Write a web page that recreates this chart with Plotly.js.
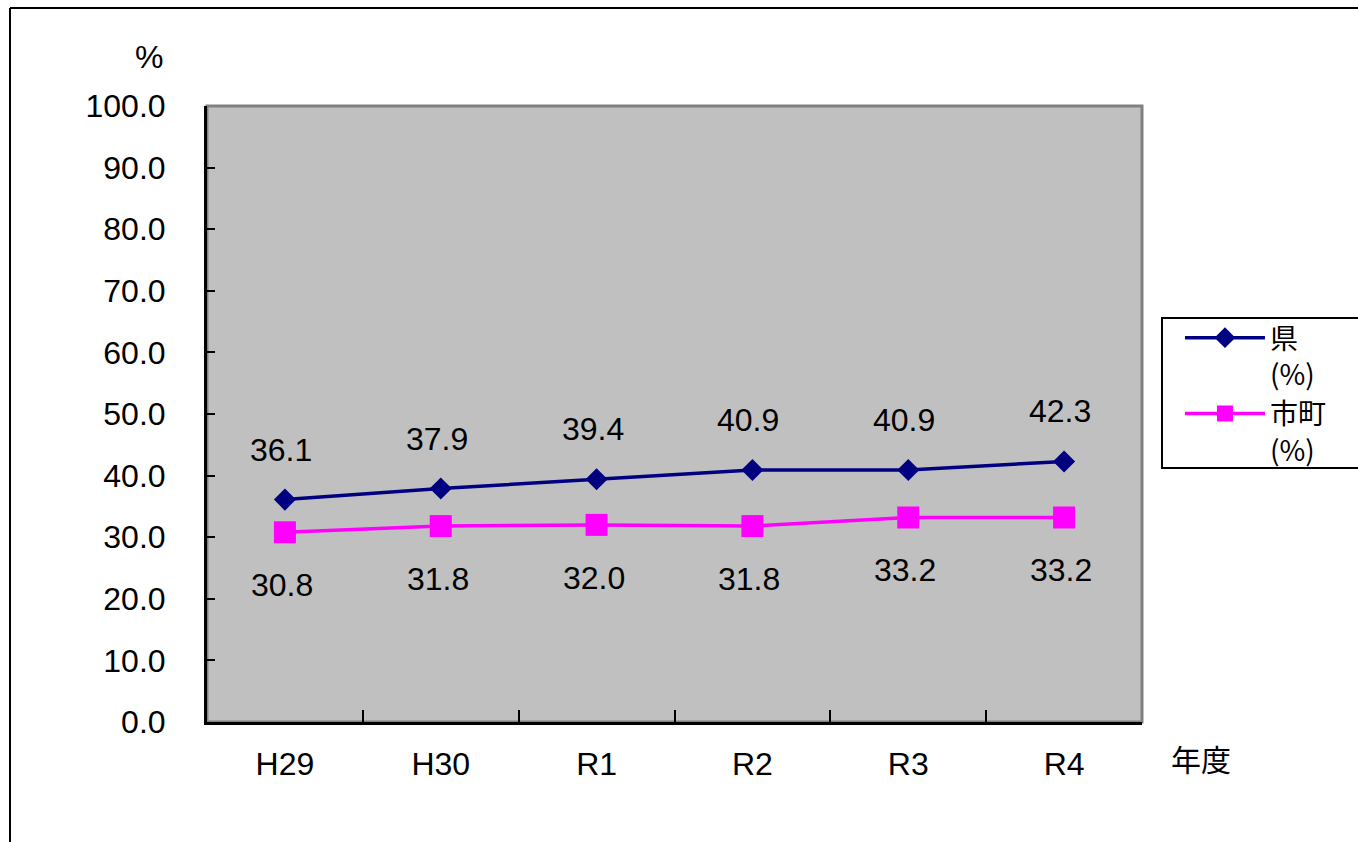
<!DOCTYPE html>
<html>
<head>
<meta charset="utf-8">
<script src="https://cdn.plot.ly/plotly-3.0.1.min.js"></script>
<style>
  html, body { margin: 0; padding: 0; background: #ffffff; }
  #chart { width: 1358px; height: 842px; }
</style>
</head>
<body>
<div id="chart"></div>
<script>
const categories = ["H29", "H30", "R1", "R2", "R3", "R4"];
const prefValues = [36.1, 37.9, 39.4, 40.9, 40.9, 42.3];
const cityValues = [30.8, 31.8, 32.0, 31.8, 33.2, 33.2];
const seriesNames = ["県<br>(%)", "市町<br>(%)"];
const yTicks = [0, 10, 20, 30, 40, 50, 60, 70, 80, 90, 100];

const FONT = "Liberation Sans, Arial, sans-serif";
const CJK = "Noto Sans CJK JP, sans-serif";

const traces = [
  {
    x: categories, y: prefValues, name: seriesNames[0],
    type: "scatter", mode: "lines+markers",
    line: { color: "#000080", width: 3.5 },
    marker: { symbol: "diamond", size: 17, color: "#000080" }
  },
  {
    x: categories, y: cityValues, name: seriesNames[1],
    type: "scatter", mode: "lines+markers",
    line: { color: "#FF00FF", width: 3.5 },
    marker: { symbol: "square", size: 22, color: "#FF00FF" }
  }
];

const annotations = [];
categories.forEach((c, i) => {
  annotations.push({ x: c, y: prefValues[i], xref: "x", yref: "y", text: prefValues[i].toFixed(1),
    showarrow: false, yshift: 50, xshift: -4, font: { family: FONT, size: 32, color: "#000" } });
  annotations.push({ x: c, y: cityValues[i], xref: "x", yref: "y", text: cityValues[i].toFixed(1),
    showarrow: false, yshift: -53, xshift: -3, font: { family: FONT, size: 32, color: "#000" } });
});
annotations.push({ xref: "paper", yref: "paper", x: -0.045, y: 1.0795, text: "%", showarrow: false,
  xanchor: "right", yanchor: "middle", font: { family: FONT, size: 32, color: "#000" } });
annotations.push({ xref: "paper", yref: "paper", x: 1.063, y: -0.058, text: "年度", showarrow: false,
  xanchor: "center", yanchor: "middle", font: { family: CJK, size: 30, color: "#000" } });

const layout = {
  width: 1358, height: 842,
  margin: { l: 207, r: 216, t: 106, b: 120 },
  paper_bgcolor: "#ffffff",
  plot_bgcolor: "#C0C0C0",
  showlegend: true,
  legend: {
    x: 1.0406, y: 0.664, xanchor: "left", yanchor: "top",
    bgcolor: "rgba(0,0,0,0)", borderwidth: 0,
    font: { family: CJK, size: 28, color: "#000" },
    itemwidth: 80, valign: "top", tracegroupgap: 0
  },
  xaxis: {
    type: "category", range: [-0.5, 5.5],
    tickson: "boundaries", ticks: "inside", ticklen: 12, tickwidth: 2, tickcolor: "#000",
    showline: true, linecolor: "#000", linewidth: 3,
    showgrid: false, zeroline: false,
    tickfont: { family: FONT, size: 32, color: "#000" },
    ticklabelstandoff: 12,
    fixedrange: true
  },
  yaxis: {
    range: [0, 100], tickvals: yTicks, ticktext: yTicks.map(v => v.toFixed(1)),
    ticks: "inside", ticklen: 8, tickwidth: 2, tickcolor: "#000",
    showline: true, linecolor: "#000", linewidth: 3,
    showgrid: false, zeroline: false,
    tickfont: { family: FONT, size: 32, color: "#000" },
    ticklabelstandoff: 32,
    fixedrange: true
  },
  shapes: [
    { type: "rect", xref: "paper", yref: "paper", x0: 0, x1: 1, y0: 0, y1: 1,
      line: { color: "#808080", width: 3 }, layer: "below" },
    { type: "line", xref: "paper", yref: "paper", x0: -0.2107, x1: -0.2107, y0: 1.159, y1: -0.25,
      line: { color: "#000", width: 2 } },
    { type: "line", xref: "paper", yref: "paper", x0: -0.2107, x1: 1.3, y0: 1.159, y1: 1.159,
      line: { color: "#000", width: 2 } },
    { type: "rect", xref: "paper", yref: "paper", x0: 1.0214, x1: 1.3, y0: 0.4123, y1: 0.6558,
      fillcolor: "#ffffff", line: { color: "#000", width: 2 }, layer: "below" }
  ],
  annotations: annotations
};

Plotly.newPlot("chart", traces, layout, { displayModeBar: false, staticPlot: true });
</script>
</body>
</html>
